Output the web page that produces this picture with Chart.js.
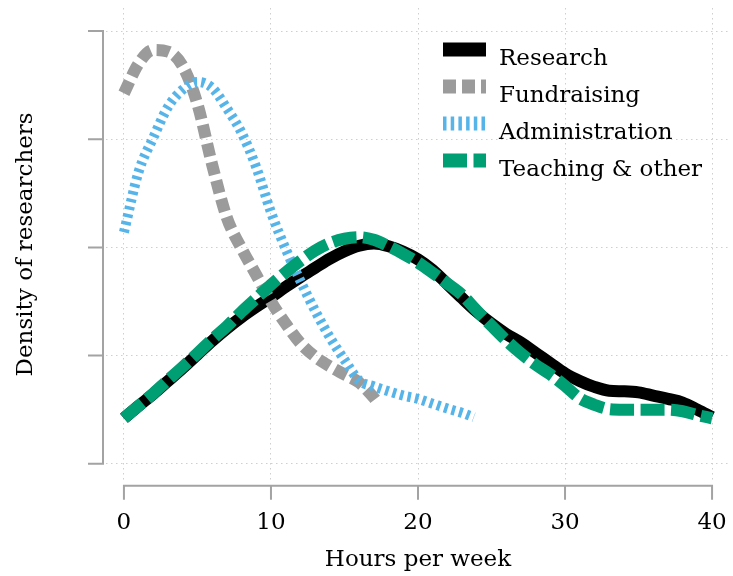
<!DOCTYPE html>
<html>
<head>
<meta charset="utf-8">
<title>Weekly hours by activity</title>
<script src="https://cdn.jsdelivr.net/npm/chart.js@4.4.0/dist/chart.umd.min.js"></script>
<style>
  html, body { margin: 0; padding: 0; background: #ffffff; }
  canvas { display: block; }
</style>
</head>
<body>
<canvas id="chart" width="733" height="576"></canvas>
<script>
// Kernel density estimates of weekly hours per activity
const hoursFull = [0, 1, 2, 3, 4, 5, 6, 7, 8, 9, 10, 11, 12, 13, 14, 15, 16, 17, 18, 19, 20,
                   21, 22, 23, 24, 25, 26, 27, 28, 29, 30, 31, 32, 33, 34, 35, 36, 37, 38, 39, 40];
const hoursFundraising = [0, 1, 2, 3, 4, 5, 6, 7, 8, 9, 10, 11, 12, 13, 14, 15, 16, 17, 17.3];
const hoursAdministration = [0, 1, 2, 3, 4, 5, 6, 7, 8, 9, 10, 11, 12, 13, 14, 15, 16, 17, 18,
                             19, 20, 21, 22, 23, 23.8];

const research = [0.0084, 0.0107, 0.0129, 0.0153, 0.0177, 0.0202, 0.0227, 0.0250, 0.0271, 0.0290,
                  0.0308, 0.0327, 0.0345, 0.0362, 0.0379, 0.0393, 0.0403, 0.0407, 0.0402, 0.0392,
                  0.0378, 0.0358, 0.0332, 0.0306, 0.0281, 0.0259, 0.0240, 0.0224, 0.0205, 0.0186,
                  0.0167, 0.0153, 0.0142, 0.0135, 0.0134, 0.0132, 0.0126, 0.0120, 0.0113, 0.0100,
                  0.0086];
const fundraising = [0.0685, 0.0740, 0.0765, 0.0762, 0.0735, 0.0665, 0.0553, 0.0455, 0.0398, 0.0349,
                     0.0300, 0.0259, 0.0223, 0.0198, 0.0180, 0.0165, 0.0150, 0.0122, 0.0111];
const administration = [0.0428, 0.0540, 0.0603, 0.0660, 0.0692, 0.0706, 0.0695, 0.0657, 0.0612,
                        0.0548, 0.0465, 0.0397, 0.0338, 0.0283, 0.0234, 0.0192, 0.0154, 0.0143,
                        0.0134, 0.0126, 0.0120, 0.0111, 0.0102, 0.0094, 0.0086];
const teaching = [0.0084, 0.0107, 0.0130, 0.0155, 0.0179, 0.0204, 0.0230, 0.0254, 0.0281, 0.0306,
                  0.0331, 0.0354, 0.0375, 0.0394, 0.0408, 0.0416, 0.0419, 0.0414, 0.0402, 0.0388,
                  0.0372, 0.0353, 0.0333, 0.0312, 0.0283, 0.0255, 0.0228, 0.0204, 0.0183, 0.0165,
                  0.0144, 0.0121, 0.0109, 0.0101, 0.0100, 0.0100, 0.0100, 0.0100, 0.0097, 0.0090,
                  0.0084];

const seriesNames = ['Research', 'Fundraising', 'Administration', 'Teaching & other'];
const xTickValues = [0, 10, 20, 30, 40];
const yTickValues = [0, 0.02, 0.04, 0.06, 0.08];

const FONT = '"DejaVu Serif", serif';
const AXIS_GREY = '#a3a3a3';

function points(xs, ys) {
  return xs.map((x, i) => ({ x: x, y: ys[i] }));
}

const lineStyles = [
  { color: '#000000', dash: [], width: 12 },
  { color: '#9b9b9b', dash: [13, 6], width: 12 },
  { color: '#56b4e9', dash: [3.5, 4.2], width: 10 },
  { color: '#009e73', dash: [24, 6.5], width: 12 }
];

const seriesData = [
  points(hoursFull, research),
  points(hoursFundraising, fundraising),
  points(hoursAdministration, administration),
  points(hoursFull, teaching)
];

const datasets = seriesNames.map((name, i) => ({
  label: name,
  data: seriesData[i],
  borderColor: lineStyles[i].color,
  backgroundColor: lineStyles[i].color,
  borderWidth: lineStyles[i].width,
  borderDash: lineStyles[i].dash,
  borderCapStyle: 'butt',
  borderJoinStyle: 'round',
  pointRadius: 0,
  pointHoverRadius: 0,
  cubicInterpolationMode: 'monotone',
  fill: false,
  order: seriesNames.length - i
}));

// Detached axis lines with outward tick marks, drawn from the scales
const offsetAxes = {
  id: 'offsetAxes',
  afterDraw(chart) {
    const { ctx, chartArea, scales } = chart;
    const xs = scales.x, ys = scales.y;
    ctx.save();
    ctx.strokeStyle = AXIS_GREY;
    ctx.lineWidth = 2;
    ctx.setLineDash([]);
    ctx.lineCap = 'butt';

    const ax = chartArea.left - 3;
    const yTop = ys.getPixelForValue(yTickValues[yTickValues.length - 1]);
    const yBot = ys.getPixelForValue(yTickValues[0]);
    ctx.beginPath();
    ctx.moveTo(ax, yTop - 1);
    ctx.lineTo(ax, yBot + 1);
    yTickValues.forEach(v => {
      const p = ys.getPixelForValue(v);
      ctx.moveTo(ax, p);
      ctx.lineTo(ax - 15, p);
    });
    ctx.stroke();

    const ay = chartArea.bottom + 5;
    const xL = xs.getPixelForValue(xTickValues[0]);
    const xR = xs.getPixelForValue(xTickValues[xTickValues.length - 1]);
    ctx.beginPath();
    ctx.moveTo(xL - 1, ay);
    ctx.lineTo(xR + 1, ay);
    xTickValues.forEach(v => {
      const p = xs.getPixelForValue(v);
      ctx.moveTo(p, ay);
      ctx.lineTo(p, ay + 14);
    });
    ctx.stroke();
    ctx.restore();
  }
};

// Legend: a short styled stroke per series with its name beside it
const lineLegend = {
  id: 'lineLegend',
  afterDraw(chart) {
    const { ctx } = chart;
    const x0 = 443, len = 43, y0 = 49.5, step = 37, textX = 499;
    ctx.save();
    chart.data.datasets.forEach((ds, i) => {
      const yc = y0 + i * step;
      ctx.beginPath();
      ctx.strokeStyle = ds.borderColor;
      ctx.lineWidth = 14;
      ctx.lineCap = 'butt';
      ctx.setLineDash(ds.borderDash);
      ctx.moveTo(x0, yc);
      ctx.lineTo(x0 + len, yc);
      ctx.stroke();
      ctx.setLineDash([]);
      ctx.fillStyle = '#000000';
      ctx.font = '23px ' + FONT;
      ctx.textBaseline = 'alphabetic';
      ctx.textAlign = 'left';
      ctx.fillText(ds.label, textX, yc + 15);
    });
    ctx.restore();
  }
};

const GRID_DASH = [1.5, 3.5];

new Chart(document.getElementById('chart'), {
  type: 'line',
  data: { datasets: datasets },
  options: {
    responsive: false,
    devicePixelRatio: 1,
    animation: false,
    events: [],
    layout: { padding: { top: 8, right: 3, bottom: 0, left: 0 } },
    plugins: {
      legend: { display: false },
      tooltip: { enabled: false }
    },
    scales: {
      x: {
        type: 'linear',
        min: -1.22,
        max: 41.22,
        afterBuildTicks: s => { s.ticks = xTickValues.map(v => ({ value: v })); },
        grid: {
          color: '#cfcfcf',
          lineWidth: 1,
          drawTicks: true,
          tickLength: 28,
          tickColor: 'rgba(0,0,0,0)',
          borderDash: GRID_DASH
        },
        border: { display: false, dash: GRID_DASH },
        ticks: {
          padding: 0,
          color: '#000000',
          font: { family: FONT, size: 23 },
          maxRotation: 0,
          callback: v => String(v)
        },
        title: {
          display: true,
          text: 'Hours per week',
          color: '#000000',
          font: { family: FONT, size: 23 },
          padding: { top: 10, bottom: 2 }
        }
      },
      y: {
        type: 'linear',
        min: -0.00316,
        max: 0.08427,
        afterBuildTicks: s => { s.ticks = yTickValues.map(v => ({ value: v })); },
        grid: {
          color: '#cfcfcf',
          lineWidth: 1,
          drawTicks: false,
          borderDash: GRID_DASH
        },
        border: { display: false, dash: GRID_DASH },
        ticks: { display: false },
        title: {
          display: true,
          text: 'Density of researchers',
          color: '#000000',
          font: { family: FONT, size: 23 },
          padding: { top: 12, bottom: 66.4 }
        }
      }
    }
  },
  plugins: [offsetAxes, lineLegend]
});
</script>
</body>
</html>
